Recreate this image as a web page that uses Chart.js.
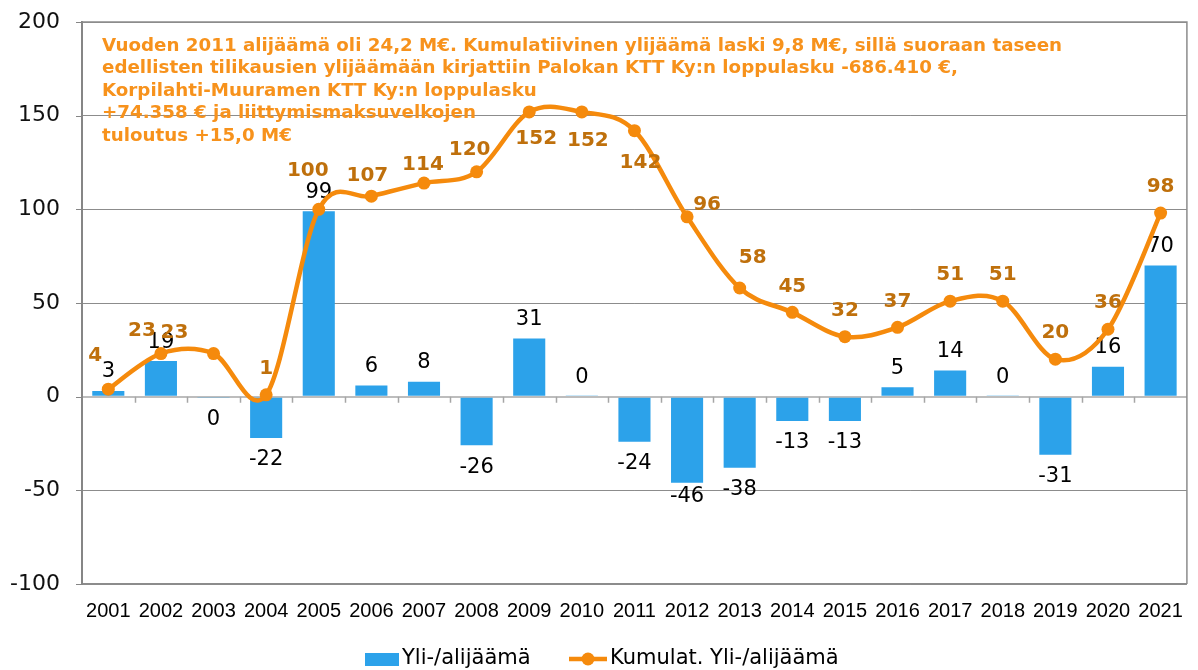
<!DOCTYPE html>
<html>
<head>
<meta charset="utf-8">
<script src="https://cdn.jsdelivr.net/npm/chart.js@4"></script>
<style>
  html, body { margin: 0; padding: 0; background: #fff; }
  #wrap { width: 1198px; height: 670px; }
</style>
</head>
<body>
<div id="wrap"><canvas id="chart" width="1198" height="670"></canvas></div>
<script>
// Years on the x axis
const YEARS = ["2001", "2002", "2003", "2004", "2005", "2006", "2007", "2008", "2009", "2010", "2011",
               "2012", "2013", "2014", "2015", "2016", "2017", "2018", "2019", "2020", "2021"];

// Yearly surplus / deficit (M€), bars
const YLIJAAMA = [3, 19, -0.4, -22, 99, 6, 8, -26, 31, 0.3, -24, -46, -38, -13, -13, 5, 14, 0.3, -31, 16, 70];

// Cumulative surplus (M€), line
const KUMULAT = [4, 23, 23, 1, 100, 107, 114, 120, 152, 152, 142, 96, 58, 45, 32, 37, 51, 51, 20, 36, 98];

// Y axis range and step
const Y_MIN = -100;
const Y_MAX = 200;
const Y_STEP = 50;

// Legend names
const SERIES_NAMES = ["Yli-/alijäämä", "Kumulat. Yli-/alijäämä"];

// Text box written in the top left of the plot
const NOTE_LINES = [
  "Vuoden 2011 alijäämä oli 24,2 M€. Kumulatiivinen ylijäämä laski 9,8 M€, sillä suoraan taseen",
  "edellisten tilikausien ylijäämään kirjattiin Palokan KTT Ky:n loppulasku -686.410 €,",
  "Korpilahti-Muuramen KTT Ky:n loppulasku",
  "+74.358 € ja liittymismaksuvelkojen",
  "tuloutus +15,0 M€"
];

// Colours
const BAR_COLOR = "#2CA2EA";
const LINE_COLOR = "#F58A0C";
const CUM_LABEL_COLOR = "#BF700C";
const NOTE_COLOR = "#F7921C";
const GRID_COLOR = "#8C8C8C";

// Label spots that were moved by hand in the original (index -> [dx, dy] from the point)
const CUM_LABEL_MOVES = {
  0: [-13, -33], 1: [-19, -23], 2: [-39, -21], 4: [-11, -39], 5: [-4, -20], 6: [-1, -18],
  7: [-7, -22], 8: [7, 27], 9: [6, 29], 10: [6, 32], 11: [20, -12], 12: [13, -30]
};

// Excel style smoothing: uniform Catmull-Rom control points for the line
const excelSmooth = {
  id: "excelSmooth",
  beforeDatasetDraw(chart, args) {
    if (args.index !== 1) return;
    const line = args.meta.dataset;
    line.updateControlPoints(chart.chartArea, args.meta.iAxis);
    const pts = args.meta.data;
    const n = pts.length;
    for (let i = 0; i < n; i++) {
      const prev = pts[Math.max(i - 1, 0)];
      const next = pts[Math.min(i + 1, n - 1)];
      const dx = (next.x - prev.x) / 6;
      const dy = (next.y - prev.y) / 6;
      pts[i].cp1x = pts[i].x - dx;
      pts[i].cp1y = pts[i].y - dy;
      pts[i].cp2x = pts[i].x + dx;
      pts[i].cp2y = pts[i].y + dy;
    }
    delete line._path;
  }
};

// Draws the value labels of the bars (under the line)
const barLabels = {
  id: "barLabels",
  afterDatasetDraw(chart, args) {
    if (args.index !== 0) return;
    const ctx = chart.ctx;
    ctx.save();
    ctx.font = "21px 'DejaVu Sans'";
    ctx.fillStyle = "#000";
    ctx.textAlign = "center";
    ctx.textBaseline = "middle";
    args.meta.data.forEach((bar, i) => {
      const v = YLIJAAMA[i];
      let y = v >= 0 ? bar.y - 19 : bar.y + 22;
      if (i === 11) y = bar.y + 14;
      ctx.fillText(String(Math.round(v) || 0), bar.x, y);
    });
    ctx.restore();
  }
};

// Draws the cumulative labels, the plot frame, axis ticks, the note and the legend
const extras = {
  id: "extras",
  afterDatasetsDraw(chart) {
    const ctx = chart.ctx;
    const area = chart.chartArea;
    const y = chart.scales.y;

    // frame around the plot
    ctx.save();
    ctx.strokeStyle = GRID_COLOR;
    ctx.lineWidth = 1.5;
    ctx.beginPath();
    ctx.moveTo(area.left, area.top);
    ctx.lineTo(area.right, area.top);
    ctx.lineTo(area.right, area.bottom);
    ctx.stroke();

    // short ticks left of the y axis
    ctx.strokeStyle = "#868686";
    ctx.lineWidth = 1;
    ctx.beginPath();
    y.ticks.forEach((t) => {
      const py = Math.round(y.getPixelForValue(t.value)) + 0.5;
      ctx.moveTo(area.left - 6, py);
      ctx.lineTo(area.left, py);
    });
    ctx.stroke();

    // little category ticks under the zero line
    const y0 = y.getPixelForValue(0);
    const step = (area.right - area.left) / YEARS.length;
    ctx.strokeStyle = "#A6A6A6";
    ctx.lineWidth = 1.5;
    ctx.beginPath();
    for (let k = 1; k < YEARS.length; k++) {
      const px = Math.round(area.left + k * step) + 0.5;
      ctx.moveTo(px, y0);
      ctx.lineTo(px, y0 + 6);
    }
    ctx.stroke();
    ctx.restore();

    // cumulative value labels
    const meta = chart.getDatasetMeta(1);
    ctx.save();
    ctx.font = "bold 20px 'DejaVu Sans'";
    ctx.fillStyle = CUM_LABEL_COLOR;
    ctx.textAlign = "center";
    ctx.textBaseline = "middle";
    meta.data.forEach((pt, i) => {
      const mv = CUM_LABEL_MOVES[i] || [0, -26];
      ctx.fillText(String(KUMULAT[i]), pt.x + mv[0], pt.y + mv[1]);
    });
    ctx.restore();

    // note text, sized so the first line fills the same width as the original
    ctx.save();
    ctx.font = "bold 17px 'DejaVu Sans'";
    const w = ctx.measureText(NOTE_LINES[0]).width;
    const size = 17 * 960 / w;
    ctx.font = "bold " + size.toFixed(2) + "px 'DejaVu Sans'";
    ctx.fillStyle = NOTE_COLOR;
    ctx.textAlign = "left";
    ctx.textBaseline = "middle";
    NOTE_LINES.forEach((line, i) => {
      ctx.fillText(line, 102, 46 + i * 22.5);
    });
    ctx.restore();

    // legend
    ctx.save();
    const ly = 659;
    ctx.font = "21px 'DejaVu Sans'";
    ctx.textAlign = "left";
    ctx.textBaseline = "middle";
    ctx.fillStyle = BAR_COLOR;
    ctx.fillRect(365, ly - 6, 34, 13);
    ctx.fillStyle = "#000";
    ctx.fillText(SERIES_NAMES[0], 402, ly);
    ctx.strokeStyle = LINE_COLOR;
    ctx.lineWidth = 4.5;
    ctx.beginPath();
    ctx.moveTo(569, ly);
    ctx.lineTo(607, ly);
    ctx.stroke();
    ctx.fillStyle = LINE_COLOR;
    ctx.beginPath();
    ctx.arc(588, ly, 6.5, 0, Math.PI * 2);
    ctx.fill();
    ctx.fillStyle = "#000";
    ctx.fillText(SERIES_NAMES[1], 610, ly);
    ctx.restore();
  }
};

var ctx = document.getElementById("chart").getContext("2d");
var chart = new Chart(ctx, {
  data: {
    labels: YEARS,
    datasets: [{
      type: "bar",
      label: SERIES_NAMES[0],
      data: YLIJAAMA,
      backgroundColor: BAR_COLOR,
      categoryPercentage: 1,
      barPercentage: 0.61,
      order: 2
    }, {
      type: "line",
      label: SERIES_NAMES[1],
      data: KUMULAT,
      borderColor: LINE_COLOR,
      backgroundColor: LINE_COLOR,
      borderWidth: 4.5,
      pointRadius: 6.5,
      pointBorderWidth: 0,
      pointBackgroundColor: LINE_COLOR,
      tension: 0.3,
      order: 1
    }]
  },
  options: {
    responsive: false,
    devicePixelRatio: 1,
    animation: false,
    layout: { padding: { left: 0, right: 3, top: 22, bottom: 0 } },
    plugins: {
      legend: { display: false },
      tooltip: { enabled: false }
    },
    scales: {
      x: {
        offset: true,
        grid: { display: true, drawOnChartArea: false, drawTicks: false },
        border: { display: true, color: GRID_COLOR, width: 1.5 },
        ticks: {
          padding: 15,
          color: "#000",
          maxRotation: 0,
          autoSkip: false,
          font: { family: "'Liberation Sans'", size: 20 }
        },
        afterFit(scale) { scale.height = 86; }
      },
      y: {
        min: Y_MIN,
        max: Y_MAX,
        ticks: {
          stepSize: Y_STEP,
          padding: 0,
          color: "#111",
          font: { family: "'DejaVu Sans'", size: 22 }
        },
        grid: {
          color: (c) => (c.tick && c.tick.value === 0 ? "#BDBDBD" : GRID_COLOR),
          lineWidth: (c) => (c.tick && c.tick.value === 0 ? 2 : 1),
          tickLength: 22,
          tickColor: "rgba(0,0,0,0)"
        },
        border: { display: true, color: "#868686", width: 2 },
        afterFit(scale) { scale.width = 82; }
      }
    }
  },
  plugins: [excelSmooth, barLabels, extras]
});
</script>
</body>
</html>
